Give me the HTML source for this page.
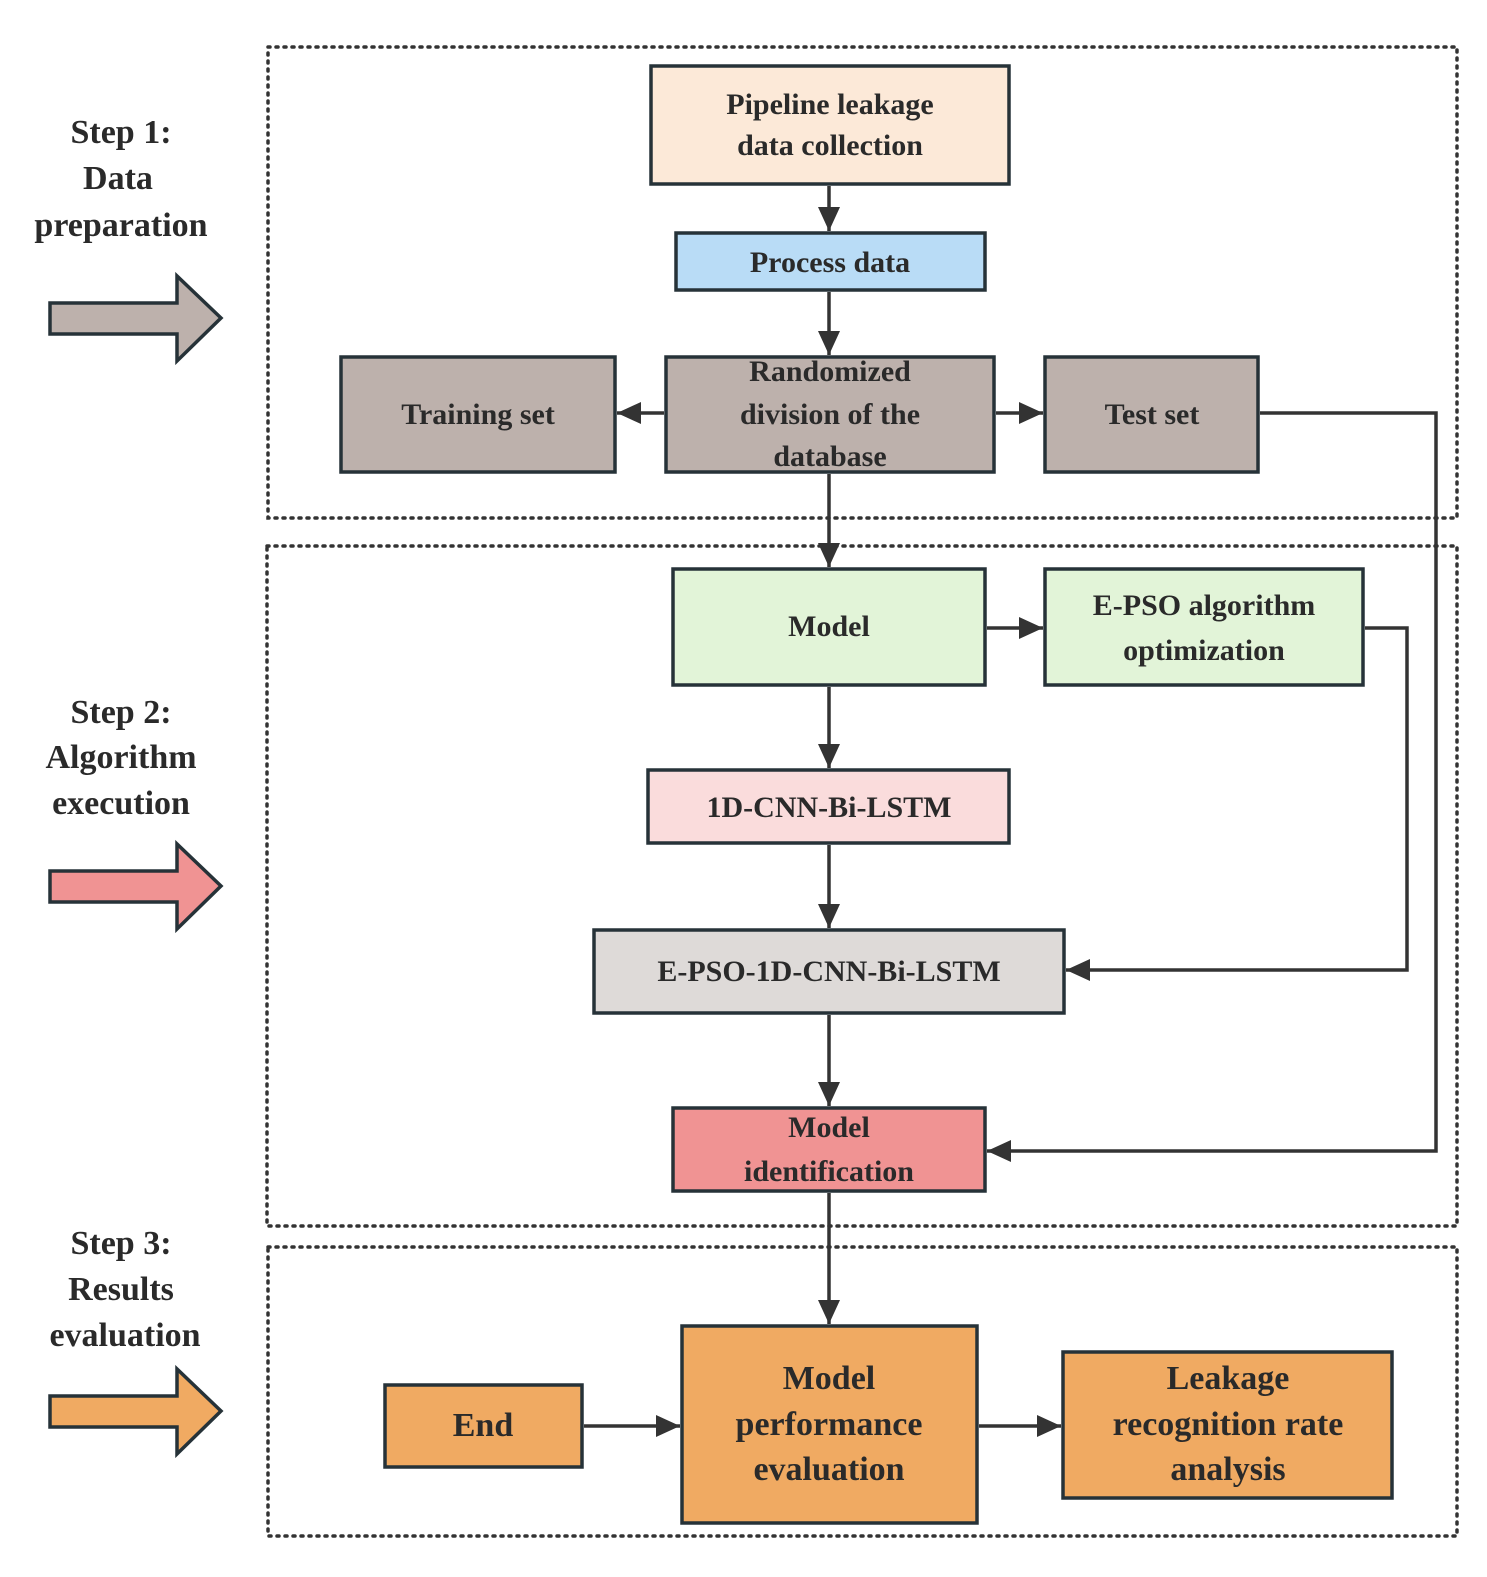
<!DOCTYPE html>
<html><head><meta charset="utf-8"><style>
html,body{margin:0;padding:0;background:#fff}
svg text{font-family:"Liberation Serif","Times New Roman","DejaVu Serif",serif;font-weight:bold;fill:#2a2a2a;text-anchor:middle}
</style></head><body>
<svg width="1487" height="1572" viewBox="0 0 1487 1572" xmlns="http://www.w3.org/2000/svg">
<defs>
<marker id="a" markerWidth="24" markerHeight="22" refX="24" refY="11" orient="auto" markerUnits="userSpaceOnUse" viewBox="0 0 24 22">
<path d="M0,0 L24,11 L0,22 z" fill="#333"/></marker>
</defs>
<g fill="none" stroke="#333" stroke-width="3.5" stroke-dasharray="2 6" stroke-linecap="round">
<rect x="268" y="47" width="1189" height="471"/>
<rect x="267" y="546" width="1190" height="680"/>
<rect x="268" y="1247" width="1189" height="289"/>
</g>
<g stroke="#263238" stroke-width="3.5">
<rect x="651" y="66" width="358" height="118" fill="#fce9d8"/>
<rect x="676" y="233" width="309" height="57" fill="#b9dcf6"/>
<rect x="341" y="357" width="274" height="115" fill="#bdb1ac"/>
<rect x="666" y="357" width="328" height="115" fill="#bdb1ac"/>
<rect x="1045" y="357" width="213" height="115" fill="#bdb1ac"/>
<rect x="673" y="569" width="312" height="116" fill="#e2f4d8"/>
<rect x="1045" y="569" width="318" height="116" fill="#e2f4d8"/>
<rect x="648" y="770" width="361" height="73" fill="#fadcdc"/>
<rect x="594" y="930" width="470" height="83" fill="#dedad8"/>
<rect x="673" y="1108" width="312" height="83" fill="#f09393"/>
<rect x="385" y="1385" width="197" height="82" fill="#f0aa62"/>
<rect x="682" y="1326" width="295" height="197" fill="#f0aa62"/>
<rect x="1063" y="1352" width="329" height="146" fill="#f0aa62"/>
<path d="M50,303 H177 V276 L221,318 L177,361 V334 H50 Z" fill="#bdb1ac"/>
<path d="M50,871 H177 V844 L221,886 L177,929 V902 H50 Z" fill="#f09393"/>
<path d="M50,1396 H177 V1369 L221,1411 L177,1454 V1427 H50 Z" fill="#f0aa62"/>
</g>
<g fill="none" stroke="#333" stroke-width="3.5" marker-end="url(#a)">
<line x1="829" y1="186" x2="829" y2="231"/>
<line x1="829" y1="292" x2="829" y2="355"/>
<line x1="664" y1="413" x2="617" y2="413"/>
<line x1="996" y1="413" x2="1043" y2="413"/>
<line x1="829" y1="474" x2="829" y2="567"/>
<line x1="987" y1="628" x2="1043" y2="628"/>
<line x1="829" y1="687" x2="829" y2="768"/>
<line x1="829" y1="845" x2="829" y2="928"/>
<line x1="829" y1="1015" x2="829" y2="1106"/>
<line x1="829" y1="1193" x2="829" y2="1324"/>
<line x1="584" y1="1426" x2="680" y2="1426"/>
<line x1="979" y1="1426" x2="1061" y2="1426"/>
<polyline points="1260,413 1436,413 1436,1151 987,1151"/>
<polyline points="1365,628 1407,628 1407,970 1066,970"/>
</g>
<g font-size="30">
<text x="830" y="114">Pipeline leakage</text>
<text x="830" y="155">data collection</text>
<text x="830" y="272">Process data</text>
<text x="478" y="424">Training set</text>
<text x="830" y="381">Randomized</text>
<text x="830" y="424">division of the</text>
<text x="830" y="466">database</text>
<text x="1152" y="424">Test set</text>
<text x="829" y="636">Model</text>
<text x="1204" y="615">E-PSO algorithm</text>
<text x="1204" y="660">optimization</text>
<text x="829" y="817">1D-CNN-Bi-LSTM</text>
<text x="829" y="981">E-PSO-1D-CNN-Bi-LSTM</text>
<text x="829" y="1137">Model</text>
<text x="829" y="1181">identification</text>
</g>
<g font-size="34">
<text x="483" y="1436">End</text>
<text x="829" y="1389">Model</text>
<text x="829" y="1435">performance</text>
<text x="829" y="1480">evaluation</text>
<text x="1228" y="1389">Leakage</text>
<text x="1228" y="1435">recognition rate</text>
<text x="1228" y="1480">analysis</text>
<text x="121" y="143">Step 1:</text>
<text x="118" y="189">Data</text>
<text x="121" y="236">preparation</text>
<text x="121" y="723">Step 2:</text>
<text x="121" y="768">Algorithm</text>
<text x="121" y="814">execution</text>
<text x="121" y="1254">Step 3:</text>
<text x="121" y="1300">Results</text>
<text x="125" y="1346">evaluation</text>
</g>
</svg>
</body></html>
